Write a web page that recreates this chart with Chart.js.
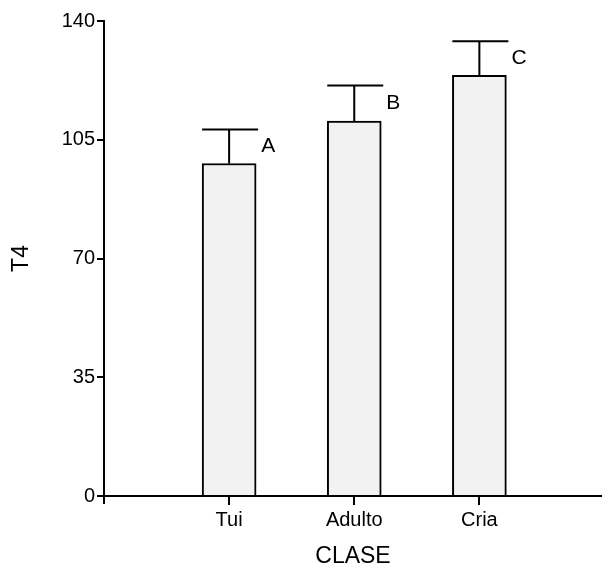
<!DOCTYPE html>
<html>
<head>
<meta charset="utf-8">
<script src="https://cdn.jsdelivr.net/npm/chart.js@4.4.1/dist/chart.umd.min.js"></script>
<style>
  body { margin: 0; background: #fff; }
  #wrap { width: 602px; height: 572px; position: relative; }
</style>
</head>
<body>
<div id="wrap"><canvas id="chart"></canvas></div>
<script>
const categories = ['Tui', 'Adulto', 'Cria'];
const positions = [1, 2, 3];
const means = [98, 110.5, 124];
const errors = [10, 10.5, 10];
const letters = ['A', 'B', 'C'];
const yTicks = [0, 35, 70, 105, 140];

const FONT = '"Liberation Sans", Arial, sans-serif';

// error bars (upper only), group letters and the category tick marks
const errorBars = {
  id: 'errorBars',
  afterDraw(chart) {
    const { ctx } = chart;
    const yScale = chart.scales.y;
    const meta = chart.getDatasetMeta(0);
    ctx.save();
    ctx.strokeStyle = '#000';
    ctx.lineWidth = 2;
    meta.data.forEach((bar, i) => {
      const w = bar.width;
      const top = yScale.getPixelForValue(means[i]);
      const cap = yScale.getPixelForValue(means[i] + errors[i]);
      ctx.beginPath();
      ctx.moveTo(bar.x, top);
      ctx.lineTo(bar.x, cap);
      ctx.moveTo(bar.x - w / 2, cap);
      ctx.lineTo(bar.x + w / 2 + 2, cap);
      ctx.stroke();
      ctx.fillStyle = '#000';
      ctx.font = '21px ' + FONT;
      ctx.textAlign = 'left';
      ctx.textBaseline = 'middle';
      ctx.fillText(letters[i], bar.x + w / 2 + 5, yScale.getPixelForValue(means[i] + errors[i] / 2));
      // tick mark under the category
      const base = yScale.getPixelForValue(0);
      ctx.beginPath();
      ctx.moveTo(Math.round(bar.x), base);
      ctx.lineTo(Math.round(bar.x), base + 9);
      ctx.stroke();
    });
    ctx.restore();
  }
};

new Chart(document.getElementById('chart'), {
  type: 'bar',
  data: {
    datasets: [{
      data: positions.map((x, i) => ({ x, y: means[i] })),
      backgroundColor: '#f2f2f2',
      borderColor: '#000',
      borderWidth: 2,
      borderSkipped: 'start',
      barThickness: 54
    }]
  },
  options: {
    responsive: true,
    maintainAspectRatio: false,
    animation: false,
    layout: { padding: { top: 21, right: 0, left: 0, bottom: 0 } },
    plugins: { legend: { display: false }, tooltip: { enabled: false } },
    scales: {
      x: {
        type: 'linear',
        offset: false,
        min: 0,
        max: 3.98,
        afterBuildTicks(scale) {
          scale.ticks = [0].concat(positions).map(v => ({ value: v }));
        },
        afterFit(scale) { scale.height = 76; },
        grid: { offset: false, drawOnChartArea: false, drawTicks: true, tickLength: 8, tickColor: '#000', tickWidth: 2, color: '#000', lineWidth: 2 },
        border: { display: true, color: '#000', width: 2 },
        ticks: {
          color: '#000',
          font: { family: FONT, size: 20 },
          padding: 4,
          maxRotation: 0,
          autoSkip: false,
          callback: (v) => categories[positions.indexOf(v)] || ''
        },
        title: {
          display: true,
          text: 'CLASE',
          color: '#000',
          font: { family: FONT, size: 23 },
          padding: { top: 0, bottom: 2 }
        }
      },
      y: {
        min: 0,
        max: 140,
        afterBuildTicks(scale) {
          scale.ticks = yTicks.map(v => ({ value: v }));
        },
        afterFit(scale) { scale.width = 104; },
        grid: { drawOnChartArea: false, drawTicks: true, tickLength: 7, tickColor: '#000', tickWidth: 2, color: '#000', lineWidth: 2 },
        border: { display: true, color: '#000', width: 2 },
        ticks: {
          color: '#000',
          font: { family: FONT, size: 20 },
          padding: 2
        },
        title: {
          display: true,
          text: 'T4',
          color: '#000',
          font: { family: FONT, size: 23 },
          padding: { top: 8, bottom: 0 }
        }
      }
    }
  },
  plugins: [errorBars]
});
</script>
</body>
</html>
